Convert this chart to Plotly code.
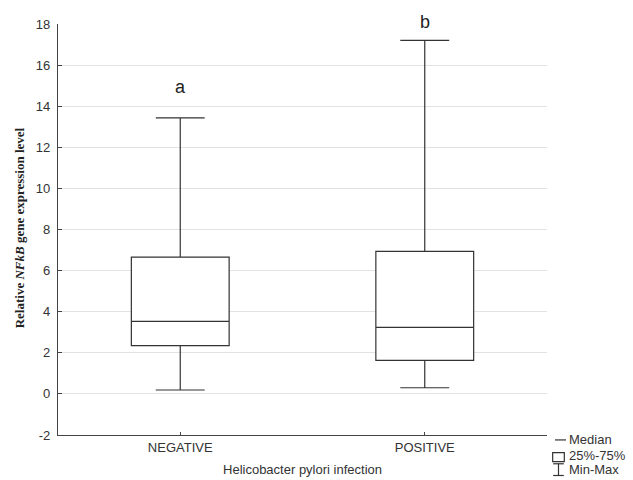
import plotly.graph_objects as go

categories = ["NEGATIVE", "POSITIVE"]
mins = [0.19, 0.30]
q1s = [2.35, 1.63]
medians = [3.53, 3.24]
q3s = [6.66, 6.94]
maxs = [13.43, 17.2]
letters = ["a", "b"]
letter_y = [14.95, 18.1]
y_ticks = [-2, 0, 2, 4, 6, 8, 10, 12, 14, 16, 18]
y_tick_text = ["-2", "0", "2", "4", "6", "8", "10", "12", "14", "16", "18"]
y_min, y_max = -2, 18

fig = go.Figure()
fig.add_trace(go.Box(
    x=[0, 1],
    q1=q1s, median=medians, q3=q3s,
    lowerfence=mins, upperfence=maxs,
    fillcolor="white",
    line=dict(color="#333333", width=1.2),
    whiskerwidth=0.5,
    width=0.4,
    boxpoints=False,
    hoverinfo="skip",
    showlegend=False,
))

# significance letters (y given in data units, converted to paper so they are not clipped)
for i, (t, yv) in enumerate(zip(letters, letter_y)):
    fig.add_annotation(x=i, y=(yv - y_min) / (y_max - y_min), text=t, showarrow=False,
                       font=dict(family="Liberation Sans, Arial", size=18, color="#222222"),
                       xref="x", yref="paper", yanchor="middle")

fig.add_annotation(
    x=-0.078, y=0.505, xref="paper", yref="paper",
    text="<b>Relative <i>NFkB</i> gene expression level</b>",
    textangle=-90, showarrow=False,
    font=dict(family="Liberation Serif, Times New Roman", size=13, color="#222222"),
    xanchor="center", yanchor="middle")

# legend block
leg_font = dict(family="Liberation Sans, Arial", size=13, color="#333333")
tx = 1.040
fig.add_annotation(x=tx, y=-0.012, xref="paper", yref="paper", text="Median",
                   showarrow=False, xanchor="left", yanchor="middle", font=leg_font)
fig.add_annotation(x=tx, y=-0.049, xref="paper", yref="paper", text="25%-75%",
                   showarrow=False, xanchor="left", yanchor="middle", font=leg_font)
fig.add_annotation(x=tx, y=-0.085, xref="paper", yref="paper", text="Min-Max",
                   showarrow=False, xanchor="left", yanchor="middle", font=leg_font)
lc = dict(color="#333333", width=1.2)
fig.add_shape(type="line", xref="paper", yref="paper", x0=1.0164, x1=1.0389, y0=-0.012, y1=-0.012, line=lc)
fig.add_shape(type="rect", xref="paper", yref="paper", x0=1.0116, x1=1.0354, y0=-0.065, y1=-0.043, line=lc)
fig.add_shape(type="line", xref="paper", yref="paper", x0=1.0235, x1=1.0235, y0=-0.0985, y1=-0.070, line=lc)
fig.add_shape(type="line", xref="paper", yref="paper", x0=1.0126, x1=1.0344, y0=-0.070, y1=-0.070, line=lc)
fig.add_shape(type="line", xref="paper", yref="paper", x0=1.0126, x1=1.0344, y0=-0.0985, y1=-0.0985, line=lc)

fig.update_layout(
    width=633, height=480,
    margin=dict(l=58, r=86, t=24, b=45, autoexpand=False),
    paper_bgcolor="white", plot_bgcolor="white",
    font=dict(family="Liberation Sans, Arial", size=13, color="#333333"),
    xaxis=dict(
        range=[-0.5, 1.5], automargin=False,
        tickmode="array", tickvals=[0, 1], ticktext=categories,
        showline=True, linecolor="#444444", linewidth=1.2,
        ticks="inside", ticklen=3, tickcolor="#444444",
        showgrid=False, zeroline=False,
        tickfont=dict(size=13, color="#333333"),
        title=dict(text="Helicobacter pylori infection", standoff=11,
                   font=dict(size=13, color="#333333")),
    ),
    yaxis=dict(
        range=[y_min, y_max], automargin=False,
        tickmode="array", tickvals=y_ticks, ticktext=y_tick_text,
        showline=True, linecolor="#444444", linewidth=1.2,
        ticks="inside", ticklen=4, tickcolor="#444444",
        ticklabelstandoff=4,
        showgrid=True, gridcolor="#e2e2e2", gridwidth=1,
        zeroline=False,
        tickfont=dict(size=13, color="#333333"),
    ),
)

fig.write_html("out.html", config={"displayModeBar": False},
               post_script="document.body.style.margin='0';")
